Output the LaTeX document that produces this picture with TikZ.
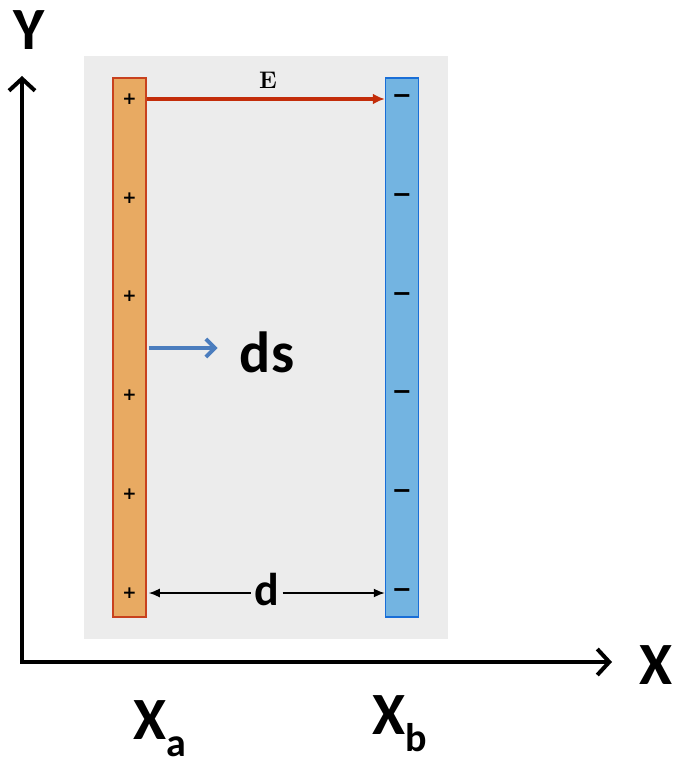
\documentclass[tikz,border=0pt]{standalone}
\usepackage{fontspec}
\usepackage{tikz}
\usetikzlibrary{arrows.meta, positioning}
\newfontfamily\labelfont{Carlito}[BoldFont={Carlito Bold}]
\newfontfamily\signfont{DejaVu Sans}
\definecolor{bggray}{RGB}{236,236,236}
\definecolor{posfill}{RGB}{232,170,98}
\definecolor{posline}{RGB}{200,65,30}
\definecolor{negfill}{RGB}{115,180,225}
\definecolor{negline}{RGB}{25,110,215}
\definecolor{efield}{RGB}{195,45,10}
\definecolor{dsblue}{RGB}{75,125,190}
\newcommand{\subx}[1]{X\raisebox{-0.28em}{\fontsize{40}{40}\selectfont #1}}
\tikzset{
  plate/.style={rectangle, line width=1.5pt, minimum width=33pt, minimum height=539pt, inner sep=0pt},
  sign/.style={inner sep=0pt, font=\signfont\bfseries\fontsize{17}{17}\selectfont},
  biglabel/.style={inner sep=0pt, font=\labelfont\bfseries\fontsize{60}{60}\selectfont},
  axis/.style={line width=4.5pt, {Straight Barb[length=12pt,width=26pt,line width=4pt]}-{Straight Barb[length=12pt,width=26pt,line width=4pt]}}
}
\begin{document}
\begin{tikzpicture}[x=1pt, y=-1pt]
    \useasboundingbox (0,0) rectangle (675,767);
    % Background panel
    \fill[bggray] (84,56) rectangle (448,639);

    % Plates
    \node[plate, fill=posfill, draw=posline] (pa) at (129.5,347.5) {};
    \node[plate, fill=negfill, draw=negline] (pb) at (402,347.5) {};
    \foreach \i in {1,...,6} {
        \node[sign] (p\i) at (129.5, {99+98.8*(\i-1)}) {+};
        \node[sign, font=\signfont\bfseries\fontsize{24}{24}\selectfont] (m\i) at (402, {99+98.8*(\i-1)}) {−};
    }

    % Field
    \draw[efield, line width=3.2pt, -{Latex[length=12pt,width=11pt]}] (pa.east |- p1) -- (pb.west |- m1);
    \node[inner sep=0pt, font=\bfseries\fontsize{24}{24}\selectfont] (E) at (268,80) {E};

    % ds
    \node[biglabel, font=\labelfont\bfseries\fontsize{58}{58}\selectfont] (ds) at (267,352) {ds};
    \draw[dsblue, line width=4.5pt, -{Straight Barb[length=9pt,width=18pt,line width=4pt]}, shorten >=22pt] ([xshift=2pt]pa.east |- 0,348) -- (ds.west |- 0,348);

    % Distance d
    \node[inner sep=3pt, font=\labelfont\bfseries\fontsize{46}{46}\selectfont] (d) at (267,590) {d};
    \draw[line width=1.6pt, {Latex[length=11pt,width=9pt]}-] ([xshift=2pt]pa.east |- p6) -- (d.west |- p6);
    \draw[line width=1.6pt, -{Latex[length=11pt,width=9pt]}] (d.east |- m6) -- (pb.west |- m6);

    % Axes
    \coordinate (O) at (22,662);
    \coordinate (ytip) at (22,76);
    \coordinate (xtip) at (612,662);
    \draw[axis, line join=miter] (ytip) -- (O) -- (xtip);
    \node[biglabel] (Y) at (29,30) {Y};
    \node[biglabel] (X) at (656,665) {X};
    \node[biglabel] (Xa) at (160,729) {\subx{a}};
    \node[biglabel] (Xb) at (400,724) {\subx{b}};
\end{tikzpicture}
\end{document}
